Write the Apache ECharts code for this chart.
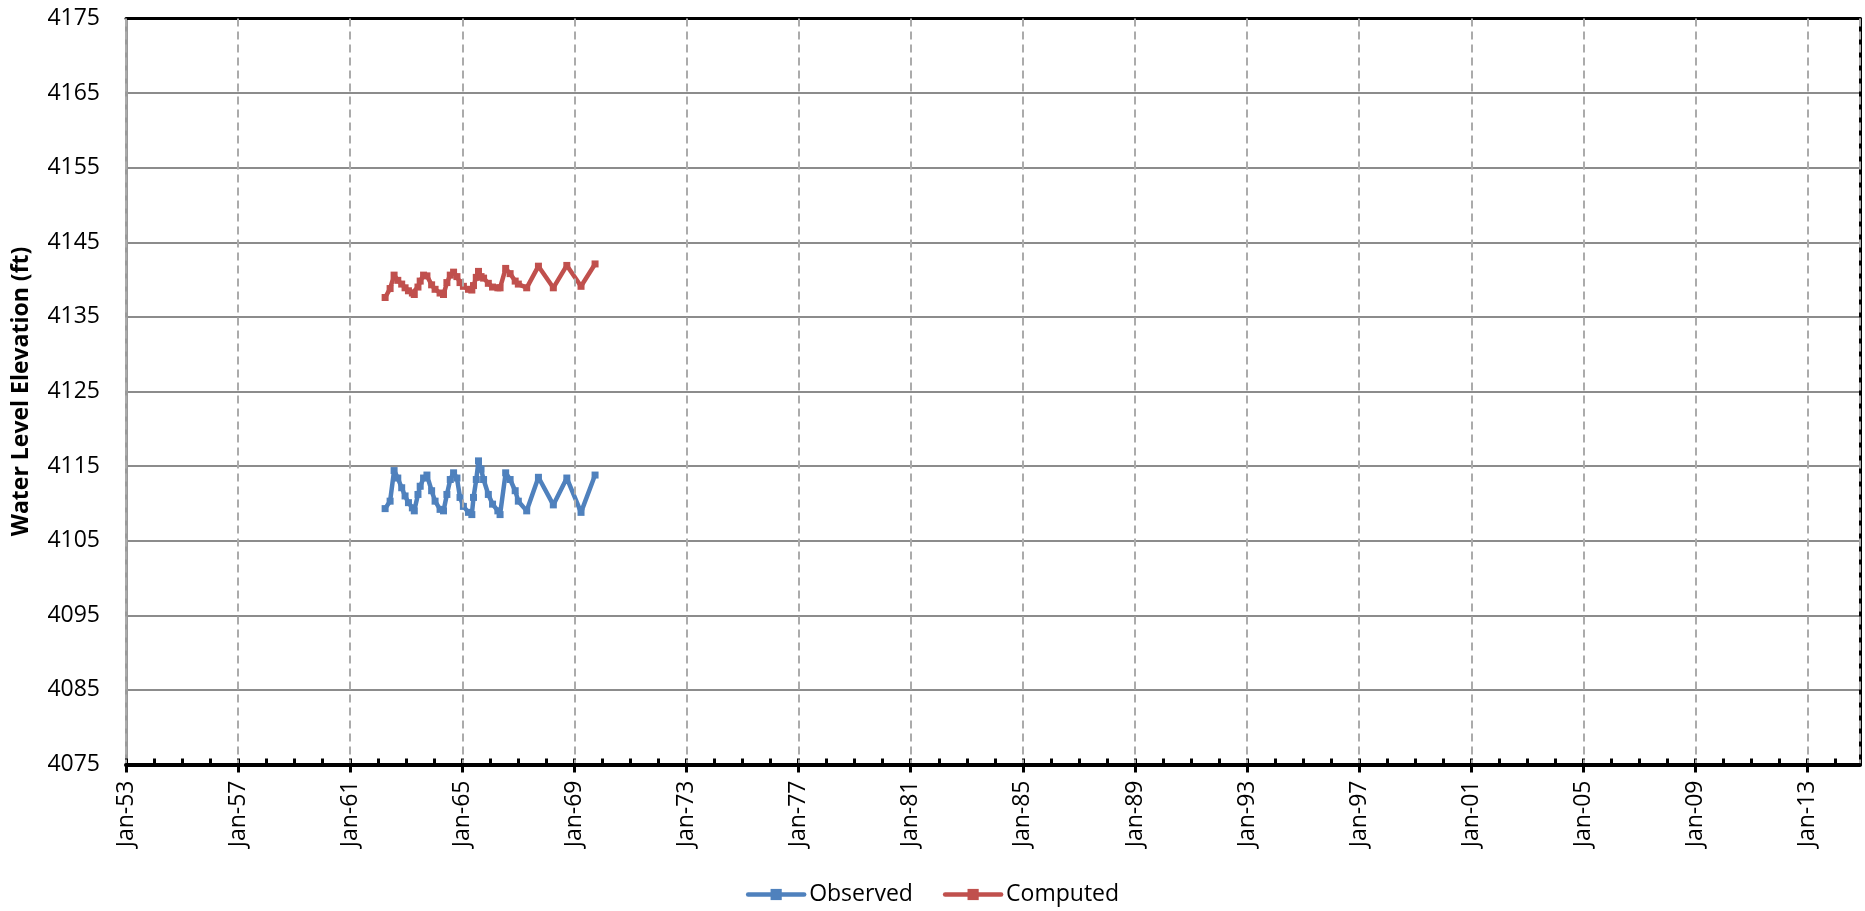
<!DOCTYPE html>
<html><head><meta charset="utf-8">
<script src="https://cdn.jsdelivr.net/npm/echarts@6/dist/echarts.min.js"></script>
<style>html,body{margin:0;padding:0;background:#fff}#c{width:1865px;height:911px}</style>
</head><body><div id="c"></div>
<script>
const dates = ['1962-04-01','1962-06-05','1962-07-27','1962-09-13','1962-11-03','1962-12-17','1963-01-30','1963-03-22','1963-04-16','1963-06-03','1963-07-02','1963-08-15','1963-09-28','1963-11-28','1964-01-12','1964-03-17','1964-05-01','1964-06-14','1964-07-28','1964-09-09','1964-10-23','1964-12-02','1965-01-15','1965-03-22','1965-05-05','1965-05-27','1965-07-02','1965-07-31','1965-09-02','1965-10-05','1965-12-06','1966-01-30','1966-04-09','1966-05-08','1966-07-20','1966-09-16','1966-11-21','1967-01-01','1967-04-20','1967-09-20','1968-04-01','1968-09-24','1969-03-28','1969-09-27'];
const observed = [4109.3,4110.3,4114.4,4113.4,4112.1,4111.0,4110.1,4109.4,4109.0,4111.2,4112.3,4113.4,4113.8,4111.7,4110.3,4109.2,4109.0,4111.2,4113.2,4114.1,4113.4,4110.8,4109.6,4108.8,4108.5,4110.8,4113.2,4115.7,4114.6,4113.2,4111.2,4109.9,4109.0,4108.5,4114.1,4113.2,4111.7,4110.3,4109.0,4113.5,4109.8,4113.4,4108.8,4113.8];
const computed = [4137.6,4138.8,4140.6,4139.9,4139.4,4138.9,4138.5,4138.2,4138.0,4139.0,4139.8,4140.6,4140.5,4139.3,4138.7,4138.2,4138.0,4139.6,4140.6,4141.0,4140.4,4139.6,4139.1,4138.7,4138.6,4139.2,4140.3,4141.1,4140.4,4140.2,4139.5,4139.0,4138.9,4138.9,4141.5,4140.8,4139.8,4139.4,4138.9,4141.8,4138.9,4141.9,4139.1,4142.1];
const xTickLabels = ['Jan-53','Jan-57','Jan-61','Jan-65','Jan-69','Jan-73','Jan-77','Jan-81','Jan-85','Jan-89','Jan-93','Jan-97','Jan-01','Jan-05','Jan-09','Jan-13'];
const seriesNames = ['Observed','Computed'];
const yAxisTitle = 'Water Level Elevation (ft)';

const DAY = 86400000;
const ORIGIN = Date.UTC(1953,0,1);
function toDay(s){const p=s.split('-').map(Number);return (Date.UTC(p[0],p[1]-1,p[2])-ORIGIN)/DAY;}
const xs = dates.map(toDay);
const obsData = xs.map((x,i)=>[x,observed[i]]);
const compData = xs.map((x,i)=>[x,computed[i]]);
const XMAX = 22598;
const FONT = 'Open Sans';
const FS = 23;

const chart = echarts.init(document.getElementById('c'));
chart.setOption({
  animation:false,
  backgroundColor:'#fff',
  textStyle:{fontFamily:FONT},
  grid:{left:126,top:18.5,right:5,bottom:146.5,show:false,containLabel:false},
  legend:{
    data:seriesNames, left:'center', top:878, itemWidth:56, itemHeight:14, itemGap:30,
    lineStyle:{width:4.5,cap:'round'},
    textStyle:{fontFamily:FONT,fontSize:FS,color:'#000'}
  },
  xAxis:[{
    type:'value', min:0, max:XMAX, interval:1461, position:'bottom',
    axisLine:{show:true,onZero:false,lineStyle:{color:'#000',width:4}},
    axisTick:{show:true,inside:false,length:8,lineStyle:{color:'#000',width:3}},
    axisLabel:{show:true,rotate:90,margin:16,fontFamily:FONT,fontSize:FS,color:'#000',showMaxLabel:false,
      formatter:v=>{const i=Math.round(v/1461);return (Math.abs(v-i*1461)<1 && xTickLabels[i])?xTickLabels[i]:'';}},
    splitLine:{show:true,lineStyle:{color:'#ababab',width:2,type:[8,5]}},
    z:5
  },{
    type:'value', min:0, max:XMAX, interval:365.25, position:'bottom',
    axisLine:{show:false,onZero:false},
    axisTick:{show:true,inside:true,length:6,lineStyle:{color:'#000',width:3}},
    axisLabel:{show:false},
    splitLine:{show:false}
  },{
    type:'value', min:0, max:XMAX, position:'top',
    axisLine:{show:true,onZero:false,lineStyle:{color:'#000',width:3}},
    axisTick:{show:false}, axisLabel:{show:false}, splitLine:{show:false}
  }],
  yAxis:[{
    type:'value', min:4075, max:4175, interval:10,
    name:yAxisTitle, nameLocation:'middle', nameGap:93, nameRotate:90,
    nameTextStyle:{fontFamily:FONT,fontSize:FS,fontWeight:'bold',color:'#000'},
    axisLine:{show:true,onZero:false,lineStyle:{color:'#9a9a9a',width:3}},
    axisTick:{show:false},
    axisLabel:{margin:26,fontFamily:FONT,fontSize:FS,color:'#000',formatter:v=>String(v)},
    splitLine:{show:true,lineStyle:{color:'#8c8c8c',width:2}}
  },{
    type:'value', min:4075, max:4175, position:'right',
    axisLine:{show:true,onZero:false,lineStyle:{color:'#000',width:3}},
    axisTick:{show:false}, axisLabel:{show:false}, splitLine:{show:false}
  }],
  series:[{
    name:seriesNames[0], type:'line', xAxisIndex:0, yAxisIndex:0, data:obsData,
    symbol:'rect', symbolSize:7, showAllSymbol:true,
    lineStyle:{color:'#4F81BD',width:4.5,cap:'round',join:'round'}, itemStyle:{color:'#4F81BD'}
  },{
    name:seriesNames[1], type:'line', xAxisIndex:0, yAxisIndex:0, data:compData,
    symbol:'rect', symbolSize:7, showAllSymbol:true,
    lineStyle:{color:'#C0504D',width:4.5,cap:'round',join:'round'}, itemStyle:{color:'#C0504D'}
  }]
});
</script></body></html>
